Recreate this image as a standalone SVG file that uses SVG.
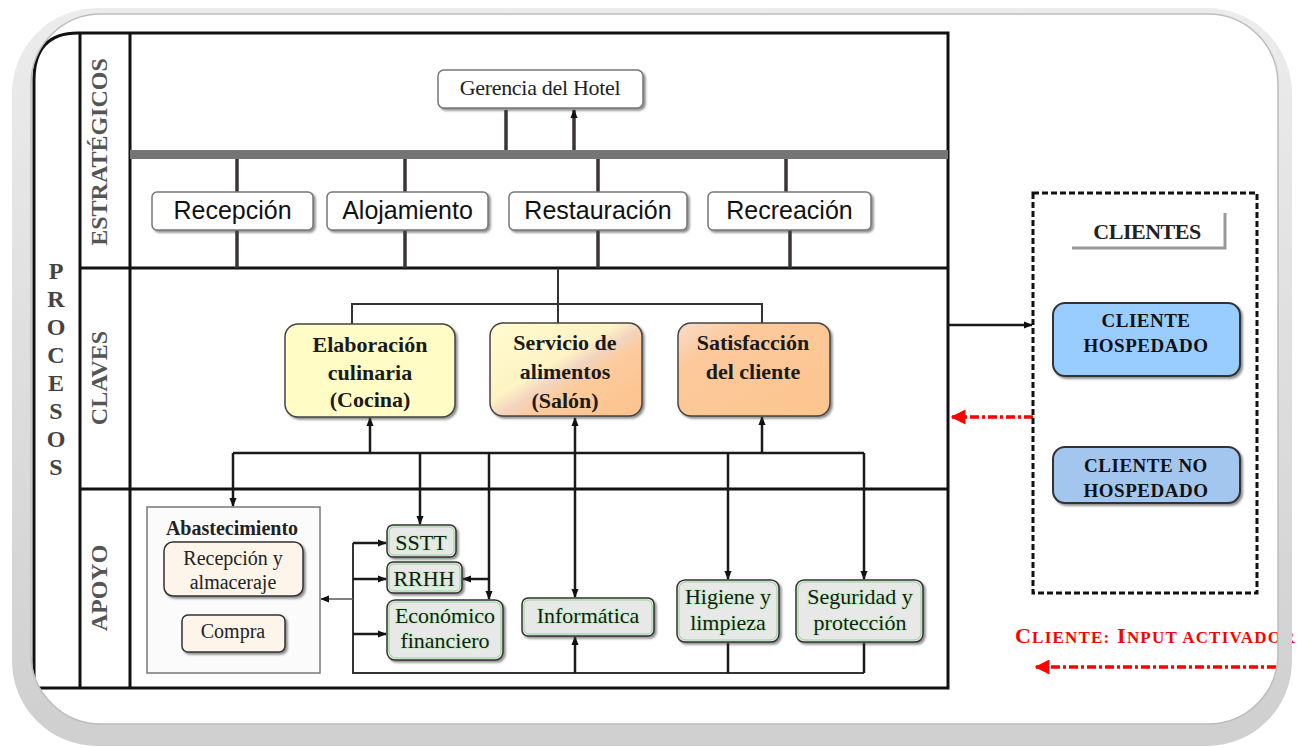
<svg xmlns="http://www.w3.org/2000/svg" width="1298" height="748" viewBox="0 0 1298 748">
<defs>
<style>
.tbl{stroke:#111;stroke-width:3;fill:none}
.cn{stroke:#1a1a1a;stroke-width:2.5;fill:none}
.ct{stroke:#333;stroke-width:2;fill:none}
.sc{stroke:#3a3434;stroke-width:3.5;fill:none}
.sec{font-family:"Liberation Serif","Times New Roman",serif;font-size:24px;font-weight:bold;fill:#555}
.pro{font-family:"Liberation Serif","Times New Roman",serif;font-size:24px;font-weight:bold;fill:#444;text-anchor:middle}
.sans{font-family:"Liberation Sans",Arial,sans-serif;font-size:25px;fill:#111;text-anchor:middle}
.ser{font-family:"Liberation Serif","Times New Roman",serif;fill:#222;text-anchor:middle}
.key{font-family:"Liberation Serif","Times New Roman",serif;font-size:22px;font-weight:bold;fill:#1a1a1a;text-anchor:middle}
.cli{font-family:"Liberation Serif","Times New Roman",serif;font-size:19px;font-weight:bold;fill:#111;text-anchor:middle;letter-spacing:0.5px}
.sbox{fill:#fff;stroke:#777;stroke-width:1.5;filter:url(#sh)}
.kbox{stroke:#444;stroke-width:1.5;filter:url(#sh)}
.abox{fill:#e8e8e8;stroke:#333;stroke-width:1.5;filter:url(#sh)}
.ain{fill:none;stroke:#8fd88f;stroke-width:1}
.at{font-family:"Liberation Serif","Times New Roman",serif;font-size:22px;fill:#1a1a1a;text-anchor:middle;stroke:#c6efc6;stroke-width:2;paint-order:stroke}
.red{stroke:#f00;stroke-width:3.5;fill:none;stroke-dasharray:9,3,3,3}
</style>
<filter id="sh" x="-10%" y="-10%" width="125%" height="130%"><feDropShadow dx="2" dy="2" stdDeviation="1" flood-color="#444" flood-opacity="0.6"/></filter>
<marker id="a" viewBox="0 0 10 10" refX="9" refY="5" markerWidth="9" markerHeight="9" markerUnits="userSpaceOnUse" orient="auto-start-reverse"><path d="M0,1 L10,5 L0,9 z" fill="#111"/></marker>
<marker id="r" viewBox="0 0 10 10" refX="9" refY="5" markerWidth="15" markerHeight="15" markerUnits="userSpaceOnUse" orient="auto"><path d="M0,0 L10,5 L0,10 z" fill="#f00"/></marker>
<linearGradient id="frame" x1="0" y1="0" x2="0" y2="1"><stop offset="0" stop-color="#ececec"/><stop offset="1" stop-color="#cfcfcf"/></linearGradient>
<linearGradient id="serv" x1="0" y1="0" x2="1" y2="1"><stop offset="0" stop-color="#fffcd0"/><stop offset="0.42" stop-color="#fdf3c4"/><stop offset="0.52" stop-color="#f3d4bf"/><stop offset="0.62" stop-color="#fccb9c"/><stop offset="1" stop-color="#fbc28c"/></linearGradient>
<linearGradient id="sat" x1="0" y1="0" x2="1" y2="1"><stop offset="0" stop-color="#f5dccb"/><stop offset="0.25" stop-color="#fdc99b"/><stop offset="1" stop-color="#fcc58f"/></linearGradient>
</defs>
<rect width="1298" height="748" fill="#fff"/>

<g id="table">
<path class="tbl" d="M34,688 V80 Q34,33 78,33 H948 V688 Z" stroke-width="3.5"/>
<line class="tbl" x1="80" y1="33" x2="80" y2="688"/>
<line class="tbl" x1="130" y1="33" x2="130" y2="688"/>
<line class="tbl" x1="80" y1="268" x2="948" y2="268"/>
<line class="tbl" x1="80" y1="489" x2="948" y2="489" stroke-width="3.5"/>
<rect x="130" y="150" width="818" height="9" fill="#757575"/>
</g>

<g id="labels">
<text class="sec" text-anchor="middle" transform="translate(107,152) rotate(-90)">ESTRATÉGICOS</text>
<text class="sec" text-anchor="middle" transform="translate(107,378) rotate(-90)">CLAVES</text>
<text class="sec" text-anchor="middle" transform="translate(107,588) rotate(-90)">APOYO</text>
<text class="pro" x="56" y="279">P</text>
<text class="pro" x="56" y="307">R</text>
<text class="pro" x="56" y="335">O</text>
<text class="pro" x="56" y="363">C</text>
<text class="pro" x="56" y="391">E</text>
<text class="pro" x="56" y="419">S</text>
<text class="pro" x="56" y="447">O</text>
<text class="pro" x="56" y="475">S</text>
</g>

<g id="connectors">
<line class="sc" x1="506" y1="110" x2="506" y2="150"/>
<line class="sc" x1="574" y1="150" x2="574" y2="110" marker-end="url(#a)"/>
<line class="sc" x1="237" y1="159" x2="237" y2="192"/>
<line class="sc" x1="237" y1="230" x2="237" y2="268"/>
<line class="sc" x1="405" y1="159" x2="405" y2="192"/>
<line class="sc" x1="405" y1="230" x2="405" y2="268"/>
<line class="sc" x1="598" y1="159" x2="598" y2="192"/>
<line class="sc" x1="598" y1="230" x2="598" y2="268"/>
<line class="sc" x1="786" y1="159" x2="786" y2="192"/>
<line class="sc" x1="790" y1="230" x2="790" y2="268"/>
<line class="ct" x1="558" y1="268" x2="558" y2="323"/>
<polyline class="ct" points="352,325 352,304 762,304 762,323"/>
<line class="cn" x1="233" y1="453" x2="864" y2="453"/>
<line class="cn" x1="370" y1="453" x2="370" y2="418" marker-end="url(#a)"/>
<line class="cn" x1="762" y1="453" x2="762" y2="417" marker-end="url(#a)"/>
<line class="cn" x1="575" y1="418" x2="575" y2="597" marker-start="url(#a)" marker-end="url(#a)"/>
<line class="cn" x1="233" y1="453" x2="233" y2="506" marker-end="url(#a)"/>
<line class="cn" x1="420" y1="453" x2="420" y2="524" marker-end="url(#a)"/>
<line class="cn" x1="489" y1="453" x2="489" y2="599" marker-end="url(#a)"/>
<line class="cn" x1="489" y1="579" x2="463" y2="579" marker-end="url(#a)"/>
<line class="cn" x1="728" y1="453" x2="728" y2="579" marker-end="url(#a)"/>
<line class="cn" x1="864" y1="453" x2="864" y2="579" marker-end="url(#a)"/>
<polyline class="ct" points="386,673 353,673 353,543"/>
<line class="ct" x1="386" y1="673" x2="864" y2="673"/>
<line class="cn" x1="575" y1="673" x2="575" y2="637" marker-end="url(#a)"/>
<line class="cn" x1="728" y1="673" x2="728" y2="643"/>
<line class="cn" x1="864" y1="673" x2="864" y2="643"/>
<line class="cn" x1="353" y1="543" x2="386" y2="543" marker-end="url(#a)"/>
<line class="cn" x1="353" y1="579" x2="386" y2="579" marker-end="url(#a)"/>
<line class="cn" x1="353" y1="634" x2="386" y2="634" marker-end="url(#a)"/>
<line stroke="#555" stroke-width="1.5" x1="353" y1="599" x2="321" y2="599" marker-end="url(#a)"/>
<line class="cn" x1="233" y1="597" x2="233" y2="614" marker-start="url(#a)" marker-end="url(#a)"/>
<line class="cn" stroke-width="3" x1="948" y1="325" x2="1032" y2="325" marker-end="url(#a)"/>
<line class="red" x1="1033" y1="417" x2="952" y2="417" marker-end="url(#r)"/>
<line class="red" x1="1276" y1="667" x2="1036" y2="667" marker-end="url(#r)"/>
</g>

<g id="gerencia">
<rect class="sbox" x="438" y="70" width="205" height="38" rx="6"/>
<text class="ser" x="540" y="95" font-size="22" fill="#444" letter-spacing="-0.3">Gerencia del Hotel</text>
</g>
<g id="recepcion">
<rect class="sbox" x="152" y="192" width="161" height="38" rx="5"/>
<text class="sans" x="232.5" y="219">Recepción</text>
</g>
<g id="alojamiento">
<rect class="sbox" x="327" y="192" width="161" height="38" rx="5"/>
<text class="sans" x="407.5" y="219">Alojamiento</text>
</g>
<g id="restauracion">
<rect class="sbox" x="509" y="192" width="178" height="38" rx="5"/>
<text class="sans" x="598" y="219">Restauración</text>
</g>
<g id="recreacion">
<rect class="sbox" x="708" y="192" width="163" height="38" rx="5"/>
<text class="sans" x="789.5" y="219">Recreación</text>
</g>

<g id="elaboracion">
<rect class="kbox" x="285" y="324" width="170" height="93" rx="13" fill="#fffcc6"/>
<text class="key" x="370" y="352">Elaboración</text>
<text class="key" x="370" y="380">culinaria</text>
<text class="key" x="370" y="407">(Cocina)</text>
</g>
<g id="servicio">
<rect class="kbox" x="490" y="323" width="152" height="93" rx="13" fill="url(#serv)"/>
<text class="key" x="565" y="350">Servicio de</text>
<text class="key" x="565" y="379">alimentos</text>
<text class="key" x="565" y="408">(Salón)</text>
</g>
<g id="satisfaccion">
<rect class="kbox" x="678" y="323" width="152" height="93" rx="13" fill="url(#sat)"/>
<text class="key" x="753" y="350">Satisfacción</text>
<text class="key" x="753" y="379">del cliente</text>
</g>

<g id="abastecimiento">
<rect x="147" y="507" width="173" height="166" fill="#fbfbfb" stroke="#777" stroke-width="1.5"/>
<text class="ser" x="232" y="535" font-size="20" font-weight="bold">Abastecimiento</text>
<rect x="164" y="542" width="139" height="54" rx="9" fill="#fdf5ea" stroke="#333" stroke-width="1.5" filter="url(#sh)"/>
<text class="ser" x="233" y="565" font-size="20">Recepción y</text>
<text class="ser" x="233" y="589" font-size="20">almaceraje</text>
<rect x="182" y="615" width="103" height="37" rx="6" fill="#fdf5ea" stroke="#333" stroke-width="1.5" filter="url(#sh)"/>
<text class="ser" x="233" y="638" font-size="20">Compra</text>
</g>

<g id="sstt">
<rect class="abox" x="387" y="525" width="69" height="32" rx="6"/>
<rect class="ain" x="389" y="527" width="65" height="28" rx="5"/>
<text class="at" x="421" y="550" font-size="24">SSTT</text>
</g>
<g id="rrhh">
<rect class="abox" x="387" y="562" width="75" height="31" rx="6"/>
<rect class="ain" x="389" y="564" width="71" height="27" rx="5"/>
<text class="at" x="424" y="586" font-size="23">RRHH</text>
</g>
<g id="economico">
<rect class="abox" x="387" y="600" width="116" height="60" rx="8"/>
<rect class="ain" x="389" y="602" width="112" height="56" rx="7"/>
<text class="at" x="445" y="623">Económico</text>
<text class="at" x="445" y="648">financiero</text>
</g>
<g id="informatica">
<rect class="abox" x="522" y="598" width="132" height="38" rx="6"/>
<rect class="ain" x="524" y="600" width="128" height="34" rx="5"/>
<text class="at" x="588" y="623">Informática</text>
</g>
<g id="higiene">
<rect class="abox" x="677" y="580" width="102" height="62" rx="8"/>
<rect class="ain" x="679" y="582" width="98" height="58" rx="7"/>
<text class="at" x="728" y="604" font-size="21">Higiene y</text>
<text class="at" x="728" y="630" font-size="21">limpieza</text>
</g>
<g id="seguridad">
<rect class="abox" x="796" y="580" width="127" height="62" rx="8"/>
<rect class="ain" x="798" y="582" width="123" height="58" rx="7"/>
<text class="at" x="860" y="604" font-size="21">Seguridad y</text>
<text class="at" x="860" y="630" font-size="21">protección</text>
</g>

<g id="clientes">
<rect x="1033" y="193" width="224" height="400" fill="none" stroke="#111" stroke-width="3" stroke-dasharray="6,3"/>
<polyline points="1072,248 1225,248 1225,213" fill="none" stroke="#999" stroke-width="3"/>
<text class="ser" x="1147" y="239" font-size="22" font-weight="bold" fill="#111" letter-spacing="-0.5">CLIENTES</text>
</g>
<g id="cliente-hospedado">
<rect x="1053" y="303" width="187" height="73" rx="12" fill="#99ccff" stroke="#333" stroke-width="2" filter="url(#sh)"/>
<text class="cli" x="1146" y="327">CLIENTE</text>
<text class="cli" x="1146" y="352">HOSPEDADO</text>
</g>
<g id="cliente-no-hospedado">
<rect x="1053" y="447" width="187" height="56" rx="12" fill="#a3c6ef" stroke="#333" stroke-width="2" filter="url(#sh)"/>
<text class="cli" x="1146" y="472">CLIENTE NO</text>
<text class="cli" x="1146" y="497">HOSPEDADO</text>
</g>

<g id="leyenda">
<text x="1015" y="643" font-family="Liberation Serif,'Times New Roman',serif" font-weight="bold" fill="#f00" letter-spacing="1.2"><tspan font-size="22">C</tspan><tspan font-size="17">LIENTE:</tspan><tspan font-size="22"> I</tspan><tspan font-size="17">NPUT ACTIVADOR</tspan></text>
</g>

<g id="frame">
<path fill="url(#frame)" fill-rule="evenodd" d="M97,8 H1207 A85,85 0 0 1 1292,93 V661 A85,85 0 0 1 1207,746 H97 A85,85 0 0 1 12,661 V93 A85,85 0 0 1 97,8 Z M101,14 H1208 A70,70 0 0 1 1278,84 V654 A70,70 0 0 1 1208,724 H101 A70,70 0 0 1 31,654 V84 A70,70 0 0 1 101,14 Z"/>
<path fill="none" stroke="#bdbdbd" stroke-width="1.5" d="M101,14 H1208 A70,70 0 0 1 1278,84 V654 A70,70 0 0 1 1208,724 H101 A70,70 0 0 1 31,654 V84 A70,70 0 0 1 101,14 Z"/>
</g>
</svg>
